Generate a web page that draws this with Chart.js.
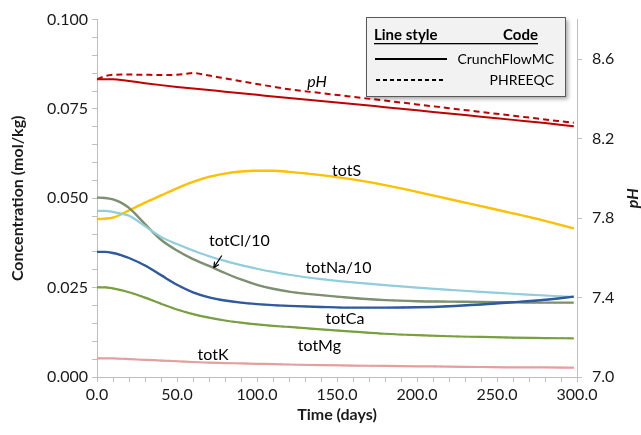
<!DOCTYPE html>
<html>
<head>
<meta charset="utf-8">
<script src="https://cdn.jsdelivr.net/npm/chart.js@4.4.1/dist/chart.umd.min.js"></script>
<style>
  html, body { margin: 0; padding: 0; background: #fff; }
  canvas { display: block; }
</style>
</head>
<body>
<canvas id="chart" width="641" height="435"></canvas>
<script>
// time (days) of the sampled points
const times = [0, 5, 10, 15, 20, 30, 40, 50, 60, 70, 80, 90, 100, 110, 120, 140, 160, 180, 200, 220, 240, 260, 280, 298];

// concentrations (mol/kg)
const totS  = [0.0442, 0.0443, 0.0446, 0.0455, 0.0466, 0.0488, 0.0508, 0.0528, 0.0546, 0.0560, 0.0569, 0.0575, 0.0577, 0.0577, 0.0574, 0.0565, 0.0553, 0.0537, 0.0518, 0.0498, 0.0478, 0.0458, 0.0437, 0.0416];
const totNa = [0.0465, 0.0465, 0.0462, 0.0457, 0.0451, 0.0422, 0.0392, 0.0372, 0.0354, 0.0338, 0.0325, 0.0313, 0.0303, 0.0294, 0.0286, 0.0274, 0.0265, 0.0257, 0.0250, 0.0244, 0.0238, 0.0233, 0.0228, 0.0224];
const totCl = [0.0502, 0.0501, 0.0497, 0.0488, 0.0473, 0.0428, 0.0384, 0.0354, 0.0330, 0.0311, 0.0291, 0.0273, 0.0258, 0.0247, 0.0239, 0.0229, 0.0221, 0.0215, 0.0212, 0.0211, 0.0210, 0.0209, 0.0208, 0.0208];
const totCa = [0.0350, 0.0350, 0.0347, 0.0341, 0.0333, 0.0312, 0.0285, 0.0258, 0.0237, 0.0223, 0.0214, 0.0208, 0.0204, 0.0201, 0.0199, 0.0196, 0.0194, 0.0194, 0.0195, 0.0198, 0.0203, 0.0209, 0.0216, 0.0225];
const totMg = [0.0251, 0.0251, 0.0248, 0.0243, 0.0237, 0.0222, 0.0205, 0.0189, 0.0176, 0.0166, 0.0158, 0.0152, 0.0147, 0.0143, 0.0140, 0.0133, 0.0127, 0.0121, 0.0117, 0.0114, 0.0112, 0.0110, 0.0109, 0.0108];
const totK  = [0.0052, 0.0052, 0.0052, 0.0051, 0.0050, 0.0048, 0.0046, 0.0044, 0.0042, 0.0040, 0.0039, 0.0038, 0.0037, 0.0036, 0.0035, 0.0033, 0.0032, 0.0031, 0.0030, 0.0029, 0.0028, 0.0027, 0.0027, 0.0026];

// pH, CrunchFlowMC
const phCrunch = [8.500, 8.500, 8.499, 8.496, 8.491, 8.480, 8.470, 8.461, 8.453, 8.445, 8.437, 8.429, 8.421, 8.413, 8.405, 8.390, 8.375, 8.359, 8.343, 8.327, 8.311, 8.295, 8.279, 8.263];
// pH, PHREEQC (own sampling, it has a bump near 60 days)
const phTimes   = [0, 5, 10, 15, 20, 30, 40, 50, 55, 60, 70, 80, 90, 100, 110, 120, 140, 160, 180, 200, 220, 240, 260, 280, 298];
const phPhreeqc = [8.500, 8.515, 8.522, 8.523, 8.523, 8.522, 8.521, 8.522, 8.526, 8.531, 8.518, 8.504, 8.490, 8.476, 8.462, 8.449, 8.430, 8.411, 8.392, 8.373, 8.354, 8.335, 8.316, 8.297, 8.280];

// axis ticks
const xLabelTicks  = [0, 50, 100, 150, 200, 250, 300];
const yLabelTicks  = [0, 0.025, 0.05, 0.075, 0.1];
const y2LabelTicks = [7.0, 7.4, 7.8, 8.2, 8.6];

// curve labels, placed in data coordinates (days, mol/kg)
const curveLabels = [
    { text: 'pH', t: 137.5, c: 0.0827, italic: true },
    { text: 'totS', t: 156, c: 0.0577 },
    { text: 'totCl/10', t: 89, c: 0.0382 },
    { text: 'totNa/10', t: 151, c: 0.0306 },
    { text: 'totCa', t: 155, c: 0.0162 },
    { text: 'totMg', t: 139, c: 0.0086 },
    { text: 'totK', t: 72.5, c: 0.0061 }
];
const clArrow = { from: [78, 0.0340], to: [73, 0.0306] };

const FONT = 'Lato, "Open Sans", sans-serif';
const AXIS_GREY = '#bfbfbf';
const TEXT = '#1a1a1a';

function pts(xs, ys) {
    return ys.map((y, i) => ({ x: xs[i], y: y }));
}

function series(label, xs, ys, color, width, dash, axis) {
    return {
        label: label,
        data: pts(xs, ys),
        borderColor: color,
        borderWidth: width,
        borderDash: dash || [],
        pointRadius: 0,
        fill: false,
        cubicInterpolationMode: 'monotone',
        yAxisID: axis || 'y'
    };
}

function near(v, list) {
    return list.some(l => Math.abs(l - v) < 1e-6);
}

const overlay = {
    id: 'overlay',
    afterDatasetsDraw(chart) {
        const ctx = chart.ctx;
        const sx = chart.scales.x, sy = chart.scales.y;
        ctx.save();

        // curve labels
        ctx.fillStyle = '#000';
        ctx.textAlign = 'center';
        ctx.textBaseline = 'middle';
        curveLabels.forEach(l => {
            ctx.font = (l.italic ? 'italic ' : '') + '16px ' + FONT;
            ctx.fillText(l.text, sx.getPixelForValue(l.t), sy.getPixelForValue(l.c));
        });

        // arrow to the totCl line
        const x1 = sx.getPixelForValue(clArrow.from[0]), y1 = sy.getPixelForValue(clArrow.from[1]);
        const x2 = sx.getPixelForValue(clArrow.to[0]), y2 = sy.getPixelForValue(clArrow.to[1]);
        const a = Math.atan2(y2 - y1, x2 - x1);
        ctx.strokeStyle = '#000';
        ctx.lineWidth = 1.2;
        ctx.beginPath();
        ctx.moveTo(x1, y1);
        ctx.lineTo(x2, y2);
        ctx.stroke();
        ctx.beginPath();
        ctx.moveTo(x2, y2);
        ctx.lineTo(x2 - 6 * Math.cos(a - 0.45), y2 - 6 * Math.sin(a - 0.45));
        ctx.moveTo(x2, y2);
        ctx.lineTo(x2 - 6 * Math.cos(a + 0.45), y2 - 6 * Math.sin(a + 0.45));
        ctx.stroke();

        // line style box
        const bx = 366, by = 17, bw = 199, bh = 79;
        ctx.shadowColor = 'rgba(0,0,0,0.35)';
        ctx.shadowBlur = 4;
        ctx.shadowOffsetX = 3;
        ctx.shadowOffsetY = 3;
        ctx.fillStyle = '#f2f2f2';
        ctx.fillRect(bx, by, bw, bh);
        ctx.shadowColor = 'transparent';
        ctx.strokeStyle = '#595959';
        ctx.lineWidth = 1;
        ctx.strokeRect(bx + 0.5, by + 0.5, bw, bh);

        ctx.fillStyle = '#000';
        ctx.textBaseline = 'alphabetic';
        ctx.font = 'bold 15px ' + FONT;
        ctx.textAlign = 'left';
        ctx.fillText('Line style', 374, 40);
        ctx.textAlign = 'right';
        ctx.fillText('Code', 538, 40);
        ctx.fillRect(374, 43, 164, 1.3);

        ctx.font = '14px ' + FONT;
        ctx.textBaseline = 'middle';
        ctx.fillText('CrunchFlowMC', 554, 59);
        ctx.fillText('PHREEQC', 554, 80);

        ctx.strokeStyle = '#000';
        ctx.lineWidth = 2;
        ctx.beginPath();
        ctx.moveTo(375, 59);
        ctx.lineTo(447, 59);
        ctx.stroke();
        ctx.setLineDash([4, 3]);
        ctx.beginPath();
        ctx.moveTo(376, 80);
        ctx.lineTo(444, 80);
        ctx.stroke();
        ctx.setLineDash([]);

        // right axis title
        const r = chart.scales.y2;
        ctx.translate(633, (r.top + r.bottom) / 2);
        ctx.rotate(-Math.PI / 2);
        ctx.textAlign = 'center';
        ctx.font = 'italic bold 16px ' + FONT;
        ctx.fillStyle = TEXT;
        ctx.fillText('pH', 0, 0);

        ctx.restore();
    }
};

const ctx = document.getElementById('chart').getContext('2d');
new Chart(ctx, {
    type: 'line',
    data: {
        datasets: [
            series('totK', times, totK, '#e3a09f', 2.2),
            series('totK PHREEQC', times, totK, '#eab3b2', 1.4, [4, 3]),
            series('totMg', times, totMg, '#79a03f', 2.2),
            series('totMg PHREEQC', times, totMg, '#8a9478', 1.4, [4, 3]),
            series('totCa', times, totCa, '#2f5a9e', 2.4),
            series('totCa PHREEQC', times, totCa, '#5b83c0', 1.4, [4, 3]),
            series('totNa/10', times, totNa, '#92cddc', 2.2),
            series('totNa/10 PHREEQC', times, totNa, '#a9d7e4', 1.4, [4, 3]),
            series('totCl/10', times, totCl, '#7d9070', 2.4),
            series('totCl/10 PHREEQC', times, totCl, '#bea46c', 1.4, [4, 3]),
            series('totS', times, totS, '#ffc000', 2.4),
            series('totS PHREEQC', times, totS, '#ffc000', 1.4, [4, 3]),
            series('pH', times, phCrunch, '#c00000', 2, null, 'y2'),
            series('pH PHREEQC', phTimes, phPhreeqc, '#c00000', 2, [6, 4], 'y2')
        ]
    },
    options: {
        responsive: false,
        animation: false,
        layout: { padding: { top: 18, left: 0, right: 0, bottom: 0 } },
        plugins: {
            legend: { display: false },
            tooltip: { enabled: false }
        },
        scales: {
            x: {
                type: 'linear',
                min: 0,
                max: 300,
                afterFit: s => { s.height = 58; },
                border: { display: true, color: AXIS_GREY, width: 1 },
                grid: { drawOnChartArea: false, drawTicks: true, tickLength: 5, color: AXIS_GREY },
                ticks: {
                    stepSize: 10,
                    autoSkip: false,
                    maxRotation: 0,
                    padding: 3,
                    color: TEXT,
                    font: { family: FONT, size: 16 },
                    callback: v => near(v, xLabelTicks) ? v.toFixed(1) : ''
                },
                title: {
                    display: true,
                    text: 'Time (days)',
                    color: TEXT,
                    font: { family: FONT, size: 16, weight: 'bold' },
                    padding: { top: 0, bottom: 11 }
                }
            },
            y: {
                position: 'left',
                min: 0,
                max: 0.1,
                afterFit: s => { s.width = 97; },
                border: { display: true, color: AXIS_GREY, width: 1 },
                grid: { drawOnChartArea: false, drawTicks: true, tickLength: 5, color: AXIS_GREY },
                ticks: {
                    stepSize: 0.005,
                    autoSkip: false,
                    padding: 4,
                    color: TEXT,
                    font: { family: FONT, size: 16 },
                    callback: v => near(v, yLabelTicks) ? v.toFixed(3) : ''
                },
                title: {
                    display: true,
                    text: 'Concentration (mol/kg)',
                    color: TEXT,
                    font: { family: FONT, size: 16, weight: 'bold' },
                    padding: { top: 8, bottom: 0 }
                }
            },
            y2: {
                position: 'right',
                min: 7.0,
                max: 8.8,
                afterFit: s => { s.width = 64; },
                afterBuildTicks: s => {
                    s.ticks = y2LabelTicks.map(v => ({ value: v }));
                },
                border: { display: true, color: AXIS_GREY, width: 1 },
                grid: { drawOnChartArea: false, drawTicks: true, tickLength: 5, color: AXIS_GREY },
                ticks: {
                    autoSkip: false,
                    padding: 10,
                    color: TEXT,
                    font: { family: FONT, size: 16 },
                    callback: v => v.toFixed(1)
                }
            }
        }
    },
    plugins: [overlay]
});
</script>
</body>
</html>
